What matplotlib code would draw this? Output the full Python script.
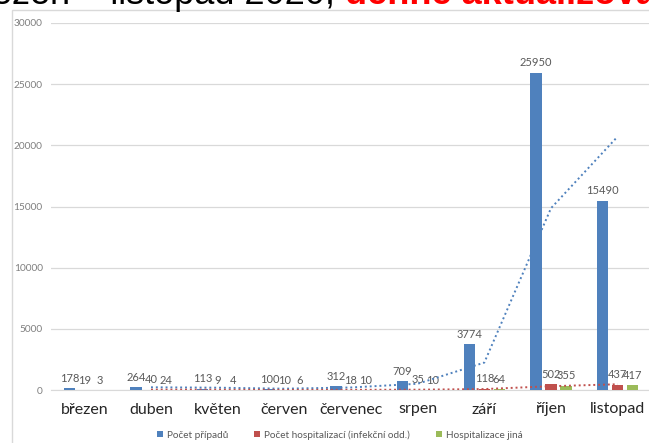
import numpy as np
import pandas as pd
import matplotlib
matplotlib.use('Agg')
import matplotlib.pyplot as plt
from matplotlib.patches import Rectangle, Patch

# data
months = ['březen', 'duben', 'květen', 'červen', 'červenec', 'srpen', 'září', 'říjen', 'listopad']
cases = [178, 264, 113, 100, 312, 709, 3774, 25950, 15490]
hosp_inf = [19, 40, 9, 10, 18, 35, 118, 502, 437]
hosp_other = [3, 24, 4, 6, 10, 10, 64, 355, 417]

series_names = ['Počet případů', 'Počet hospitalizací (infekční odd.)', 'Hospitalizace jiná']
colours = ['#4f81bd', '#c0504d', '#9bbb59']

plt.rcParams['font.family'] = ['Lato', 'DejaVu Sans']

W, H = 649, 443
fig = plt.figure(figsize=(W / 100, H / 100), dpi=100)

# chart frame (cropped on the right and bottom)
fig.add_artist(Rectangle((12 / W, -0.1), 1.2, 1 - 10 / H + 0.1, transform=fig.transFigure,
                         facecolor='none', edgecolor='#d9d9d9', lw=1.0, clip_on=False))

ax = fig.add_axes([51 / W, 1 - 390 / H, 600 / W, 367 / H])
x = np.arange(len(months))
width = 0.17
offset = 0.225

for i, (vals, col) in enumerate(zip([cases, hosp_inf, hosp_other], colours)):
    xs = x + (i - 1) * offset
    ax.bar(xs, vals, width=width, color=col, zorder=3)
    for xi, v in zip(xs, vals):
        ax.annotate(str(v), (xi, v), xytext=(0, 3), textcoords='offset points',
                    ha='center', va='bottom', fontsize=8, color='#595959', zorder=4)

# moving average trendlines (period 2)
ma_cases = pd.Series(cases).rolling(2).mean()
ma_inf = pd.Series(hosp_inf).rolling(2).mean()
ax.plot(x, ma_cases, color='#4f81bd', lw=1.4, linestyle=(0, (1, 1.5)), zorder=5)
ax.plot(x, ma_inf, color='#c0504d', lw=1.4, linestyle=(0, (1, 1.5)), zorder=5)

ax.set_xlim(-0.5, 8.5)
ax.set_ylim(0, 30000)
ax.set_yticks(np.arange(0, 30001, 5000))
ax.set_xticks(x)
ax.set_xticklabels(months, fontsize=11.5, color='#262626')
ax.tick_params(axis='x', length=0, pad=9)
ax.tick_params(axis='y', length=0, pad=6, labelsize=7.3, labelcolor='#7f7f7f')
ax.yaxis.grid(True, color='#d9d9d9', lw=0.9, zorder=0)
for s in ['top', 'right', 'left']:
    ax.spines[s].set_visible(False)
ax.spines['bottom'].set_color('#d9d9d9')
ax.spines['bottom'].set_zorder(2)
ax.patch.set_visible(False)

handles = [Patch(facecolor=c, edgecolor='none') for c in colours]
fig.legend(handles, series_names, loc='center', bbox_to_anchor=(340 / W, 1 - 435 / H),
           ncol=3, frameon=False, fontsize=7.2, labelcolor='#595959',
           handlelength=0.6, handleheight=0.6, handletextpad=0.4, columnspacing=2.6)

# cropped title line at the very top
t1 = fig.text(-40 / W, 1 - 4 / H, 'březen – listopad 2020, ', fontsize=26,
              family='Liberation Sans', color='black', va='baseline', ha='left')
fig.canvas.draw()
bb = t1.get_window_extent(renderer=fig.canvas.get_renderer())
fig.text(bb.x1 / W, 1 - 4 / H, 'denně aktualizováno', fontsize=26,
         family='Liberation Sans', weight='bold', color='#ff0000', va='baseline', ha='left')

plt.savefig('out.png', dpi=100)
